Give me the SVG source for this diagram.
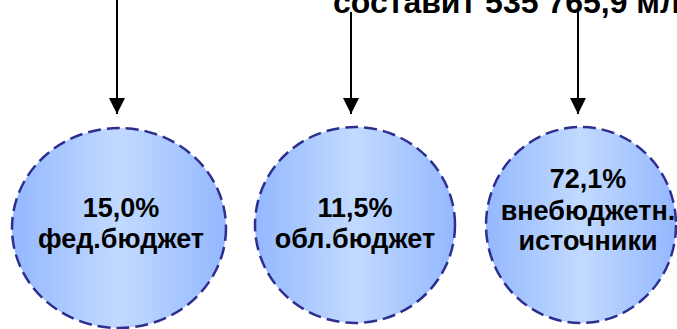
<svg xmlns="http://www.w3.org/2000/svg" width="677" height="329" viewBox="0 0 677 329">
<defs>
<linearGradient id="g" x1="0" y1="0" x2="1" y2="0">
<stop offset="0" stop-color="#94b8ff"/>
<stop offset="0.5" stop-color="#c2daff"/>
<stop offset="1" stop-color="#94b8ff"/>
</linearGradient>
<marker id="ah" markerWidth="16" markerHeight="16" viewBox="0 0 16 16" refX="16" refY="8" orient="auto" markerUnits="userSpaceOnUse">
<path d="M0,0 L16,8 L0,16 Z" fill="#000"/>
</marker>
</defs>
<style>
.node{fill:url(#g);stroke:#2e2e8f;stroke-width:2.5;stroke-dasharray:13 6}
.t{font-family:"Liberation Sans",Arial,sans-serif;font-weight:bold;font-size:27px;fill:#000;text-anchor:middle}
.c{stroke:#000;stroke-width:2;fill:none;marker-end:url(#ah)}
</style>
<rect width="677" height="329" fill="#fff"/>
<text x="333" y="13" class="t" style="text-anchor:start;font-size:32px">составит 535 765,9 млн</text>
<g id="connectors">
<line class="c" x1="117" y1="0" x2="117" y2="114"/>
<line class="c" x1="351" y1="12" x2="351" y2="114"/>
<line class="c" x1="578" y1="12" x2="578" y2="114"/>
</g>
<g id="node1">
<ellipse class="node" cx="119" cy="228" rx="107" ry="100"/>
<text class="t" x="121" y="217">15,0%</text>
<text class="t" x="121" y="248">фед.бюджет</text>
</g>
<g id="node2">
<ellipse class="node" cx="355" cy="225" rx="100" ry="98"/>
<text class="t" x="355" y="217">11,5%</text>
<text class="t" x="355" y="248">обл.бюджет</text>
</g>
<g id="node3">
<ellipse class="node" cx="581" cy="225" rx="95" ry="98"/>
<text class="t" x="588" y="188">72,1%</text>
<text class="t" x="588" y="220">внебюджетн.</text>
<text class="t" x="588" y="250">источники</text>
</g>
</svg>
